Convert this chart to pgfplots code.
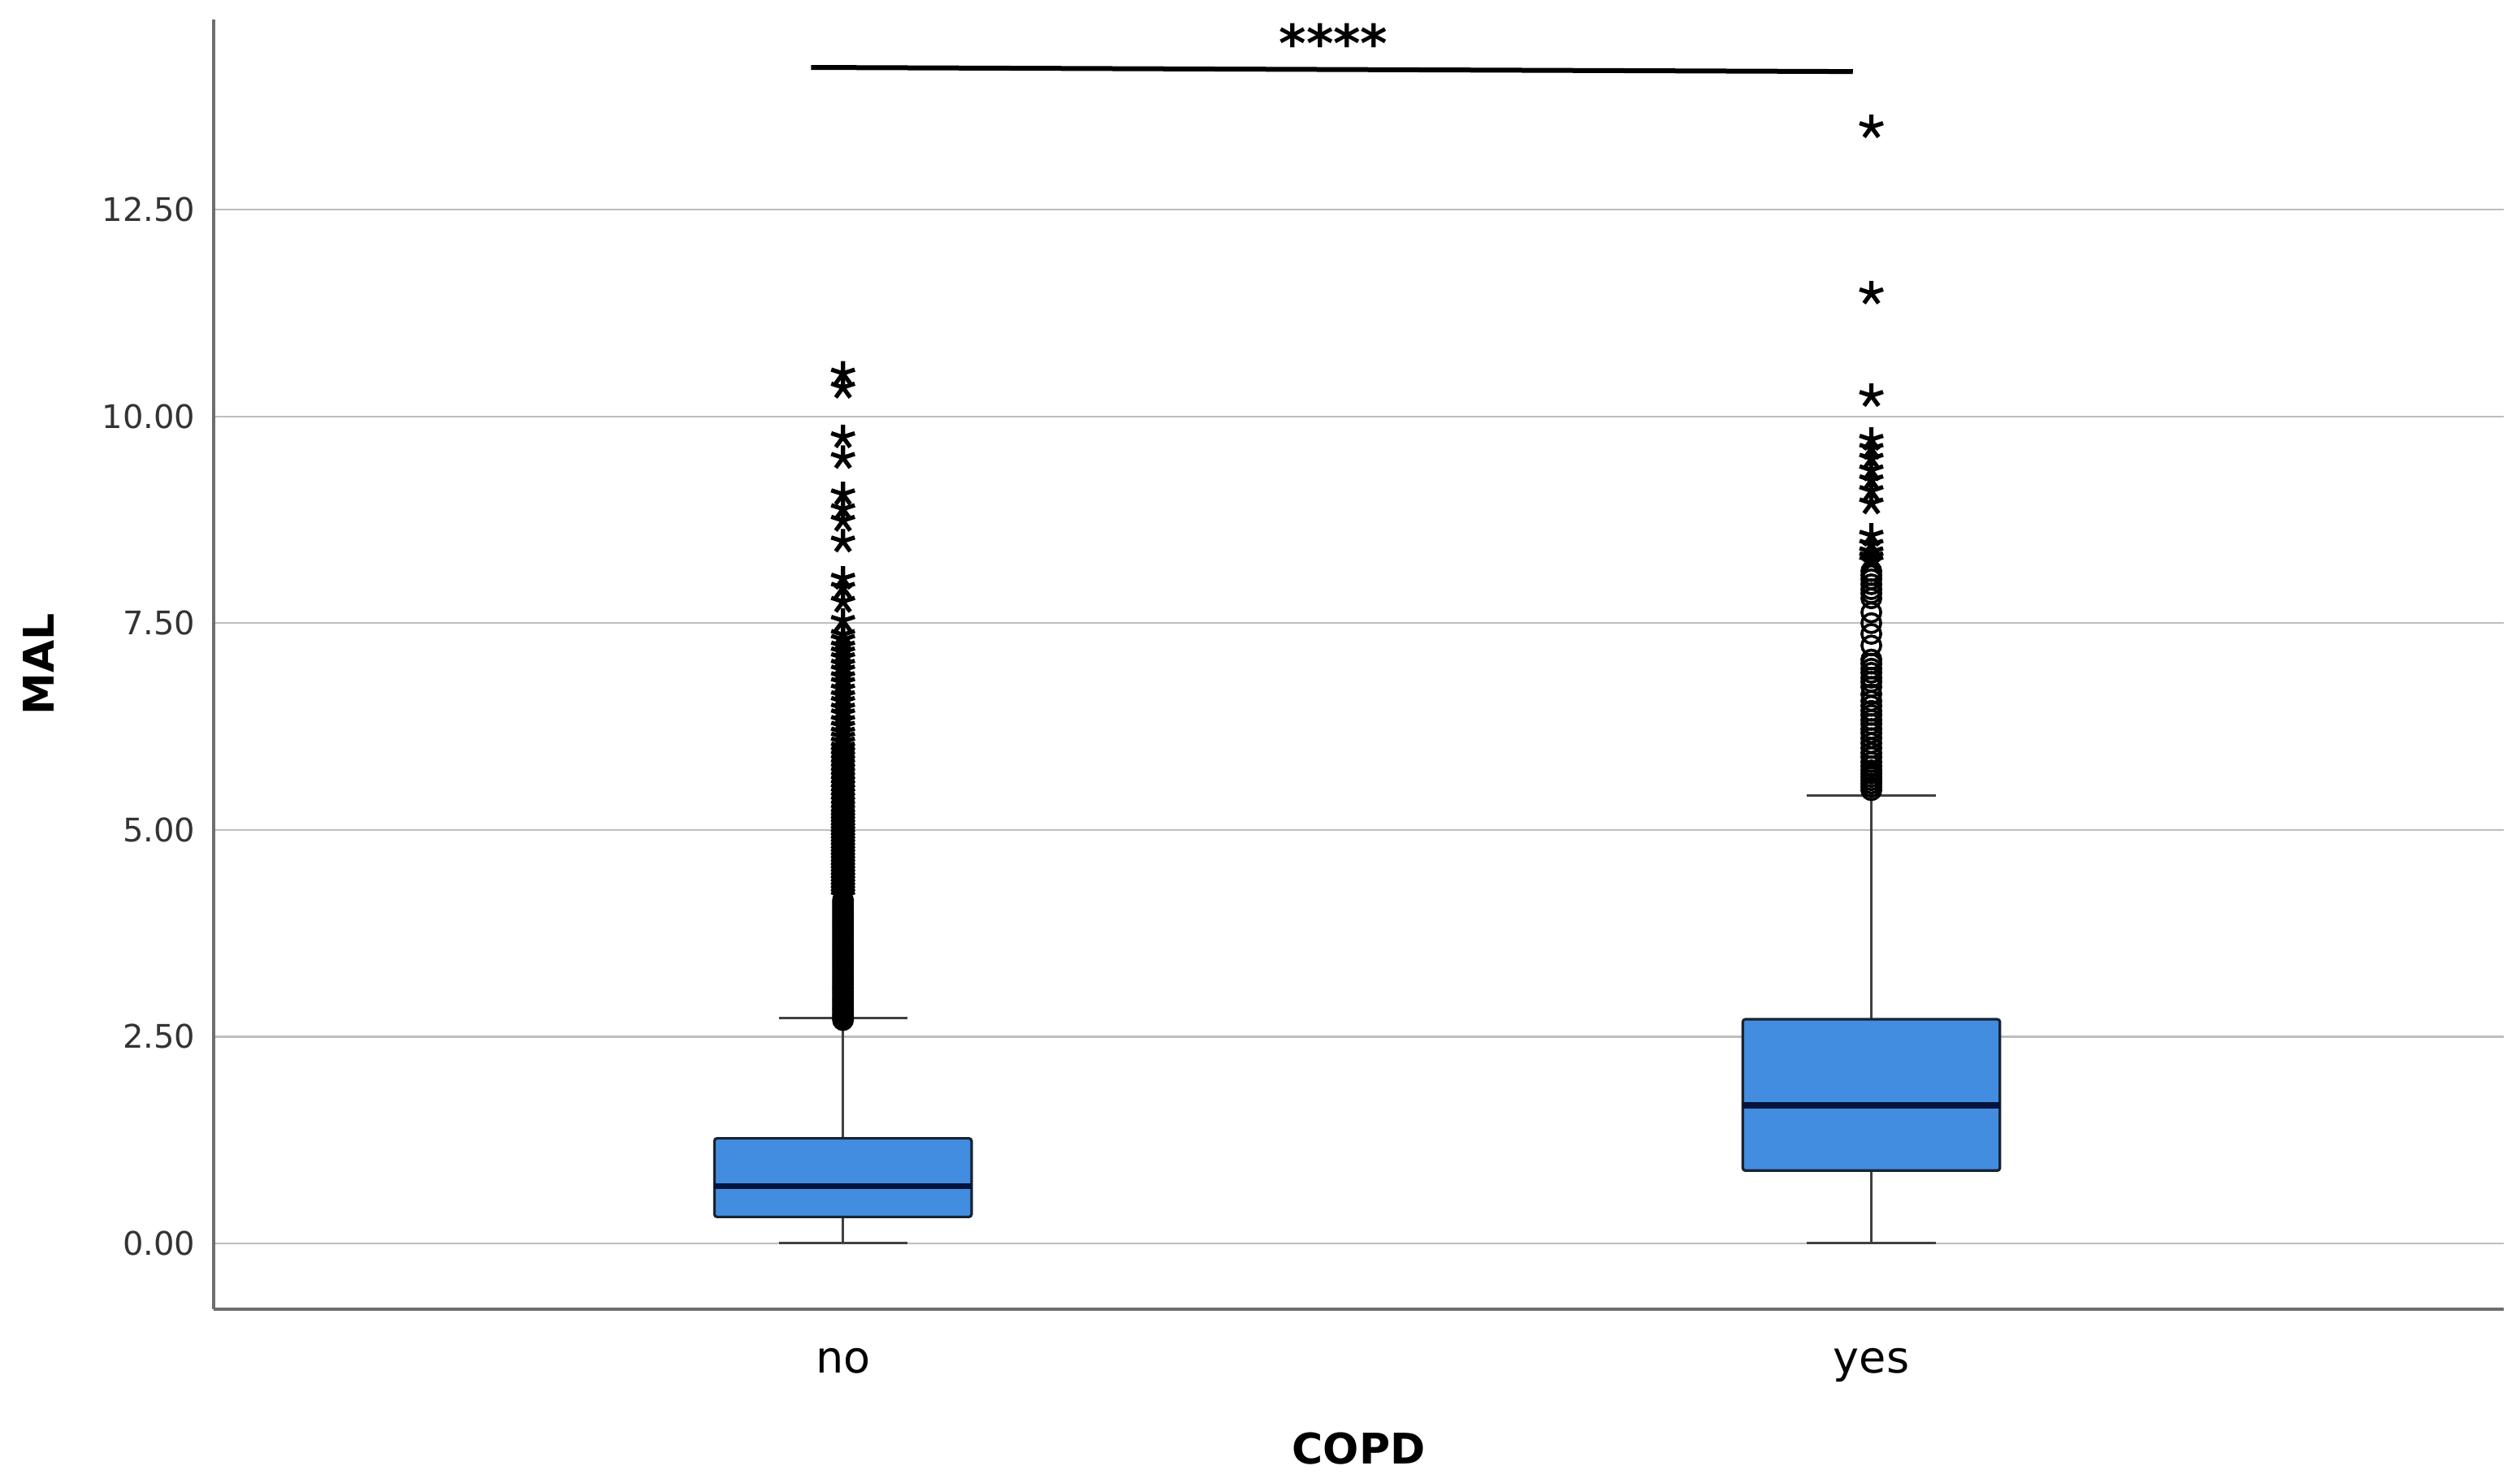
\documentclass[border=0pt]{standalone}
\usepackage{pgfplots}
\pgfplotsset{compat=1.18}
\usepgfplotslibrary{statistics}
\usepackage{fontspec}
\setmainfont{DejaVu Sans}

\definecolor{boxblue}{RGB}{66,141,224}
\definecolor{boxedge}{RGB}{25,35,50}
\definecolor{medline}{RGB}{5,20,60}
\definecolor{axisgray}{RGB}{110,110,110}
\definecolor{gridgray}{RGB}{190,190,190}

\begin{document}
\begin{tikzpicture}
\begin{axis}[
  scale only axis,
  width=704.75pt, height=397pt,
  xmin=-0.612, xmax=1.615,
  ymin=-0.796, ymax=14.80,
  axis x line=bottom, axis y line=left,
  axis line style={-, draw=axisgray, line width=1pt},
  major tick length=0pt,
  xtick={0,1}, xticklabels={no,yes},
  ytick={0,2.5,5,7.5,10,12.5},
  ymajorgrids,
  grid style={draw=gridgray, line width=0.6pt},
  /pgf/number format/.cd, fixed, fixed zerofill, precision=2, assume math mode=true,
  /pgfplots/.cd,
  yticklabel style={font=\fontsize{10}{12}\selectfont, text=black!80, anchor=east, inner sep=0pt, xshift=-5.5pt},
  xticklabel style={font=\fontsize{13.5}{16}\selectfont, anchor=base, inner sep=0pt, yshift=-19.75pt},
  xlabel={COPD}, ylabel={MAL},
  xlabel style={font=\bfseries\fontsize{13}{16}\selectfont, at={(axis description cs:0.5,-0.1083)}, anchor=center},
  ylabel style={font=\bfseries\fontsize{13}{16}\selectfont, at={(axis description cs:-0.0766,0.5)}, anchor=center},
  clip=false,
  boxplot/draw direction=y,
  boxplot/every box/.style={fill=boxblue, draw=boxedge, line width=0.8pt, rounded corners=0.8pt},
  boxplot/every median/.style={draw=medline, line width=1.9pt},
  boxplot/every whisker/.style={draw=black!75, line width=0.75pt},
]
% box plots (prepared quartiles)
\addplot[boxplot prepared={draw position=0, lower whisker=0, lower quartile=0.32,
  median=0.69, upper quartile=1.27, upper whisker=2.72, box extend=0.25, whisker extend=0.125}]
  coordinates {};
\addplot[boxplot prepared={draw position=1, lower whisker=0, lower quartile=0.88,
  median=1.67, upper quartile=2.71, upper whisker=5.42, box extend=0.25, whisker extend=0.125}]
  coordinates {};

% outliers (circles)
\addplot[only marks, mark=o, mark size=2.9pt, mark options={line width=0.9pt, draw=black}] coordinates {
  (0,2.70) (0,2.72) (0,2.75) (0,2.77) (0,2.80) (0,2.83) (0,2.85) (0,2.88) (0,2.91) (0,2.94)
  (0,2.96) (0,2.99) (0,3.02) (0,3.05) (0,3.08) (0,3.10) (0,3.13) (0,3.16) (0,3.19) (0,3.22)
  (0,3.25) (0,3.28) (0,3.31) (0,3.34) (0,3.37) (0,3.40) (0,3.43) (0,3.46) (0,3.49) (0,3.52)
  (0,3.55) (0,3.58) (0,3.61) (0,3.64) (0,3.67) (0,3.70) (0,3.73) (0,3.76) (0,3.79) (0,3.82)
  (0,3.85) (0,3.88) (0,3.91) (0,3.94) (0,3.97) (0,4.00) (0,4.03) (0,4.06) (0,4.09) (0,4.12) (0,4.15)
  (1,5.48) (1,5.52) (1,5.56) (1,5.60) (1,5.64) (1,5.68) (1,5.72) (1,5.77) (1,5.82) (1,5.88)
  (1,5.93) (1,5.99) (1,6.05) (1,6.11) (1,6.17) (1,6.22) (1,6.28) (1,6.33) (1,6.39) (1,6.44)
  (1,6.50) (1,6.56) (1,6.64) (1,6.73) (1,6.79) (1,6.84) (1,6.90) (1,6.95) (1,7.01) (1,7.06)
  (1,7.23) (1,7.37) (1,7.50) (1,7.63) (1,7.80) (1,7.86) (1,7.91) (1,7.97) (1,8.03) (1,8.08) (1,8.13)
};
% extremes (stars)
\addplot[only marks, mark=star, mark size=3.8pt, mark options={line width=1.3pt, draw=black}] coordinates {
  (0,4.20) (0,4.24) (0,4.28) (0,4.32) (0,4.36) (0,4.40) (0,4.44) (0,4.48) (0,4.52) (0,4.56)
  (0,4.60) (0,4.64) (0,4.68) (0,4.72) (0,4.76) (0,4.80) (0,4.84) (0,4.88) (0,4.92) (0,4.96)
  (0,5.00) (0,5.04) (0,5.08) (0,5.12) (0,5.16) (0,5.20) (0,5.25) (0,5.30) (0,5.35) (0,5.40)
  (0,5.45) (0,5.50) (0,5.55) (0,5.60) (0,5.65) (0,5.70) (0,5.75) (0,5.80) (0,5.85) (0,5.90)
  (0,5.95) (0,6.00) (0,6.06) (0,6.12) (0,6.18) (0,6.25) (0,6.32) (0,6.40) (0,6.47) (0,6.55)
  (0,6.62) (0,6.70) (0,6.78) (0,6.85) (0,6.93) (0,7.00) (0,7.08) (0,7.15) (0,7.22) (0,7.30)
  (0,7.36) (0,7.53) (0,7.76) (0,7.93) (0,8.04) (0,8.49) (0,8.74) (0,8.88) (0,9.06) (0,9.50)
  (0,9.75) (0,10.35) (0,10.52)
  (1,8.25) (1,8.30) (1,8.36) (1,8.45) (1,8.56) (1,8.95) (1,9.10) (1,9.23) (1,9.35) (1,9.49)
  (1,9.61) (1,9.72) (1,10.25) (1,11.49) (1,13.50)
};

% significance bar
\addplot[black, line width=1.5pt, mark=none] coordinates {(-0.031,14.22) (0.982,14.17)};
\node[font=\bfseries\fontsize{16}{18}\selectfont] at (axis cs:0.477,14.52) {****};

\coordinate (bl) at (rel axis cs:0,0);
\coordinate (tr) at (rel axis cs:1,1);
\end{axis}
\pgfresetboundingbox
\path[use as bounding box] ([xshift=-65.75pt,yshift=-53.5pt]bl) rectangle ([xshift=5pt,yshift=6pt]tr);
\end{tikzpicture}
\end{document}
